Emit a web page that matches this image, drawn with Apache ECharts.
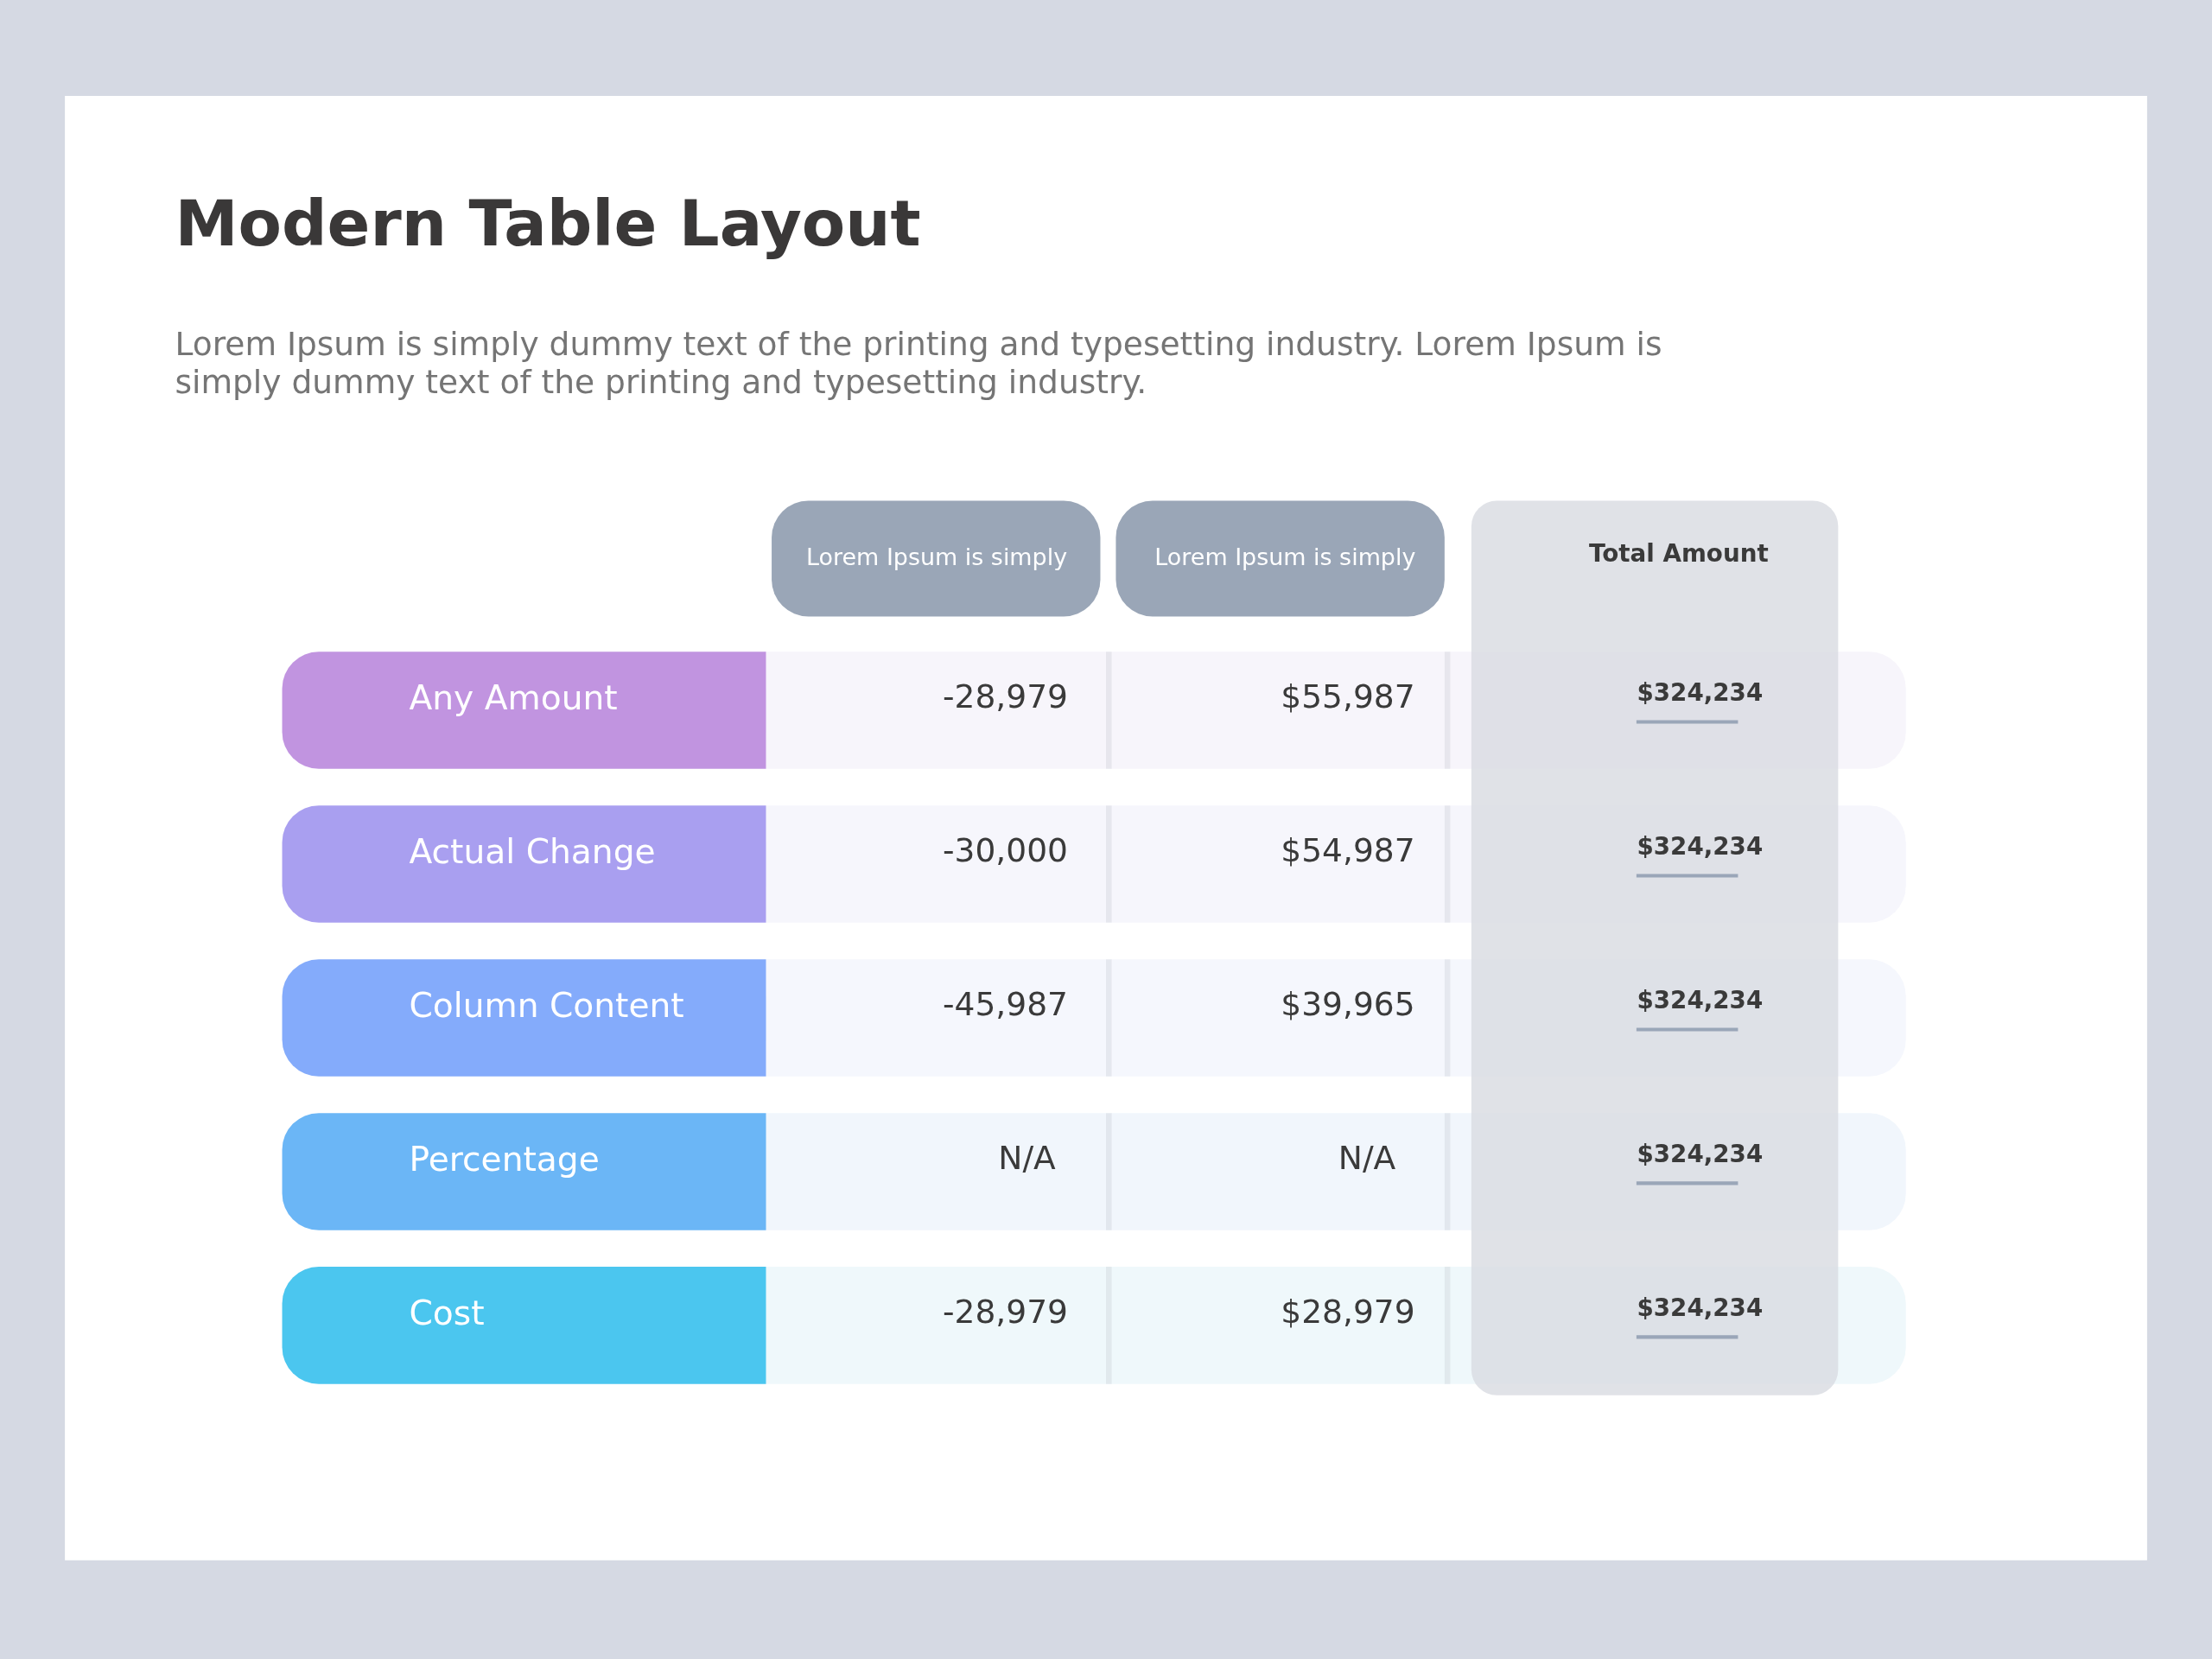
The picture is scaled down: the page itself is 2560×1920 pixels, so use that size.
<!DOCTYPE html>
<html>
<head>
<meta charset="utf-8">
<script src="https://cdn.jsdelivr.net/npm/echarts@6/dist/echarts.min.js"></script>
<style>html,body{margin:0;padding:0;background:#d5d9e3}#main{width:2560px;height:1920px}</style>
</head>
<body>
<div id="main"></div>
<script>
// data
var rowNames = ['Any Amount', 'Actual Change', 'Column Content', 'Percentage', 'Cost'];
var col1Values = [-28979, -30000, -45987, null, -28979];
var col2Values = [55987, 54987, 39965, null, 28979];
var totalValues = [324234, 324234, 324234, 324234, 324234];
var headers = ['Lorem Ipsum is simply', 'Lorem Ipsum is simply', 'Total Amount'];
var rowColors = ['#c194e0', '#a99ff0', '#84abfb', '#6bb6f6', '#4bc6ef'];
var rowTints = ['#f7f5fb', '#f6f6fc', '#f5f7fd', '#f1f6fc', '#eff8fb'];

var s = 2560 / 1568;
function S(v) { return v * s; }
var FONT = 'DejaVu Sans';

function fmt(v, dollar) {
    if (v === null) return 'N/A';
    var t = Math.abs(v).toLocaleString('en-US');
    return (v < 0 ? '-' : '') + (dollar ? '$' : '') + t;
}

var chart = echarts.init(document.getElementById('main'));

//行
function renderRow(params, api) {
    var i = api.value(0);
    var cy = api.coord([0, i])[1];
    var h = S(83);
    var top = cy - h / 2;
    var v1 = col1Values[i], v2 = col2Values[i];
    return {
        type: 'group',
        children: [
            {type: 'rect', shape: {x: S(543), y: top, width: S(1351 - 543), height: h, r: [0, S(26), S(26), 0]},
             style: {fill: rowTints[i]}},
            {type: 'rect', shape: {x: S(784), y: top, width: S(4), height: h},
             style: {fill: 'rgba(160,165,180,0.18)'}},
            {type: 'rect', shape: {x: S(1024), y: top, width: S(4), height: h},
             style: {fill: 'rgba(160,165,180,0.18)'}},
            {type: 'rect', shape: {x: S(200), y: top, width: S(343), height: h, r: [S(26), 0, 0, S(26)]},
             style: {fill: rowColors[i]}},
            {type: 'text', x: S(290), y: cy - S(7),
             style: {text: rowNames[i], fill: '#fff', font: S(24) + 'px "' + FONT + '"', textVerticalAlign: 'middle'}},
            {type: 'text', x: v1 === null ? S(728) : S(757), y: cy - S(8),
             style: {text: fmt(v1, false), fill: '#3a3a3a', font: S(23) + 'px "' + FONT + '"',
                     textAlign: v1 === null ? 'center' : 'right', textVerticalAlign: 'middle'}},
            {type: 'text', x: v2 === null ? S(969) : S(1003), y: cy - S(8),
             style: {text: fmt(v2, true), fill: '#3a3a3a', font: S(23) + 'px "' + FONT + '"',
                     textAlign: v2 === null ? 'center' : 'right', textVerticalAlign: 'middle'}}
        ]
    };
}

//合计
function renderTotal(params, api) {
    var i = api.value(0);
    var cy = api.coord([0, i])[1];
    return {
        type: 'group',
        children: [
            {type: 'text', x: S(1205), y: cy - S(11),
             style: {text: fmt(totalValues[i], true), fill: '#3a3a3a', font: 'bold ' + S(17) + 'px "' + FONT + '"',
                     textAlign: 'center', textVerticalAlign: 'middle'}},
            {type: 'rect', shape: {x: S(1160), y: cy + S(7), width: S(72), height: S(2.5)},
             style: {fill: '#9aa6b8'}}
        ]
    };
}

var rowIdx = rowNames.map(function (n, i) { return [i]; });

var option = {
    backgroundColor: '#d5d9e3',
    animation: false,
    grid: {left: 0, right: 0, top: S(449), height: S(545)},
    xAxis: {type: 'value', show: false, min: 0, max: 1},
    yAxis: {type: 'category', show: false, inverse: true, data: rowNames},
    graphic: [
        {type: 'rect', z: 0, shape: {x: S(46), y: S(68), width: S(1476), height: S(1038)}, style: {fill: '#fff'}},
        {type: 'text', z: 1, left: S(124), top: S(140),
         style: {text: 'Modern Table Layout', fill: '#3a3838', font: 'bold ' + S(45) + 'px "' + FONT + '"'}},
        {type: 'text', z: 1, left: S(124), top: S(232),
         style: {text: 'Lorem Ipsum is simply dummy text of the printing and typesetting industry. Lorem Ipsum is\nsimply dummy text of the printing and typesetting industry.',
                 fill: '#757575', font: S(23) + 'px "' + FONT + '"', lineHeight: S(27)}},
        {type: 'rect', z: 1, shape: {x: S(547), y: S(355), width: S(233), height: S(82), r: S(26)}, style: {fill: '#9aa6b7'}},
        {type: 'rect', z: 1, shape: {x: S(791), y: S(355), width: S(233), height: S(82), r: S(26)}, style: {fill: '#9aa6b7'}},
        {type: 'text', z: 2, x: S(664), y: S(396),
         style: {text: headers[0], fill: '#fff', font: S(16.5) + 'px "' + FONT + '"', textAlign: 'center', textVerticalAlign: 'middle'}},
        {type: 'text', z: 2, x: S(911), y: S(396),
         style: {text: headers[1], fill: '#fff', font: S(16.5) + 'px "' + FONT + '"', textAlign: 'center', textVerticalAlign: 'middle'}},
        {type: 'rect', z: 4, shape: {x: S(1043), y: S(355), width: S(260), height: S(634), r: S(18)},
         style: {fill: 'rgba(217,220,226,0.82)'}},
        {type: 'text', z: 5, x: S(1190), y: S(394),
         style: {text: headers[2], fill: '#3a3a3a', font: 'bold ' + S(17) + 'px "' + FONT + '"', textAlign: 'center', textVerticalAlign: 'middle'}}
    ],
    series: [
        {type: 'custom', z: 3, renderItem: renderRow, data: rowIdx, encode: {y: 0}},
        {type: 'custom', z: 6, renderItem: renderTotal, data: rowIdx, encode: {y: 0}}
    ]
};
chart.setOption(option);
</script>
</body>
</html>
